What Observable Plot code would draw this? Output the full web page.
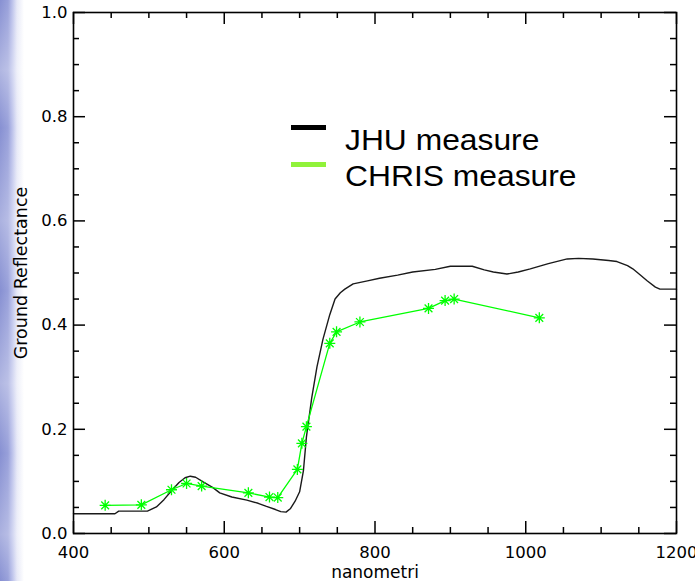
<!DOCTYPE html>
<html>
<head>
<meta charset="utf-8">
<script src="https://cdn.jsdelivr.net/npm/d3@7"></script>
<script src="https://cdn.jsdelivr.net/npm/@observablehq/plot@0.6"></script>
<style>
  html, body { margin: 0; padding: 0; width: 695px; height: 581px; overflow: hidden; background: #fff; }
  #wrap { position: relative; width: 695px; height: 581px; }
  #strip {
    position: absolute; left: 0; top: 0; width: 26px; height: 581px;
    background:
      linear-gradient(to bottom, rgba(255,255,255,0) 0%, rgba(255,255,255,0.35) 12%, rgba(255,255,255,0) 22%, rgba(255,255,255,0.3) 38%, rgba(255,255,255,0) 50%, rgba(255,255,255,0.35) 66%, rgba(255,255,255,0) 78%, rgba(255,255,255,0.3) 92%, rgba(255,255,255,0) 100%),
      linear-gradient(to right, #8790d2 0px, #98a0da 8px, #b9bfea 12px, #e6e8f7 17px, #ffffff 24px);
  }
  #chart { position: absolute; left: 0; top: 0; }
  .sw { position: absolute; left: 291px; width: 35px; height: 5px; }
  .lg { position: absolute; left: 345px; font-family: "Liberation Sans", Arial, sans-serif; font-size: 30px; line-height: 30px; color: #000; white-space: nowrap; transform: scaleX(1.06); transform-origin: 0 50%; }
</style>
</head>
<body>
<div id="wrap">
  <div id="strip"></div>
  <div id="chart"></div>
  <div class="sw" style="top:125px;background:#000;"></div>
  <div class="lg" id="lg1" style="top:125px;"></div>
  <div class="sw" style="top:162px;background:#90f23a;"></div>
  <div class="lg" id="lg2" style="top:161px;"></div>
</div>
<script>
// JHU laboratory spectrum (nm, reflectance)
const jhuWavelength = [400, 455, 460, 498, 510, 520, 530, 540, 548, 555, 562, 572, 585, 594, 610, 630, 645, 656, 668, 675, 682, 688, 694, 700, 705, 709, 716, 723, 731, 740, 747, 754, 760, 771, 790, 806, 830, 850, 880, 900, 929, 945, 957, 975, 990, 1006, 1030, 1055, 1070, 1089, 1110, 1121, 1135, 1142, 1152, 1161, 1172, 1178, 1200];
const jhuReflectance = [0.038, 0.038, 0.043, 0.043, 0.051, 0.065, 0.082, 0.098, 0.107, 0.110, 0.108, 0.099, 0.088, 0.078, 0.070, 0.064, 0.058, 0.052, 0.046, 0.042, 0.041, 0.048, 0.062, 0.080, 0.120, 0.185, 0.260, 0.320, 0.373, 0.420, 0.450, 0.462, 0.469, 0.479, 0.485, 0.490, 0.496, 0.502, 0.507, 0.513, 0.513, 0.506, 0.502, 0.498, 0.502, 0.508, 0.518, 0.527, 0.528, 0.527, 0.524, 0.522, 0.514, 0.508, 0.496, 0.485, 0.473, 0.469, 0.469];

// CHRIS bands (nm, reflectance)
const chrisWavelength = [442, 490, 530, 550, 570, 632, 660, 671, 697, 703, 709, 740, 749, 780, 871, 893, 905, 1018];
const chrisReflectance = [0.054, 0.055, 0.084, 0.096, 0.091, 0.078, 0.070, 0.069, 0.123, 0.173, 0.205, 0.365, 0.387, 0.406, 0.432, 0.447, 0.450, 0.414];

const seriesNames = ["JHU measure", "CHRIS measure"];
const xDomain = [400, 1200];
const yDomain = [0, 1];
const xTicks = [400, 600, 800, 1000, 1200];
const xMinorTicks = [450, 500, 550, 650, 700, 750, 850, 900, 950, 1050, 1100, 1150];
const yTicks = [0, 0.2, 0.4, 0.6, 0.8, 1.0];
const yMinorTicks = [0.05, 0.1, 0.15, 0.25, 0.3, 0.35, 0.45, 0.5, 0.55, 0.65, 0.7, 0.75, 0.85, 0.9, 0.95];
const xLabel = "nanometri";
const yLabel = "Ground Reflectance";

const jhu = jhuWavelength.map((w, i) => ({w, r: jhuReflectance[i]}));
const chris = chrisWavelength.map((w, i) => ({w, r: chrisReflectance[i]}));

// IDL-style 8-armed asterisk
const asterisk8 = {
  draw(ctx, size) {
    const r = Math.sqrt(size / Math.PI);
    const d = r * Math.SQRT1_2;
    ctx.moveTo(-r, 0); ctx.lineTo(r, 0);
    ctx.moveTo(0, -r); ctx.lineTo(0, r);
    ctx.moveTo(-d, -d); ctx.lineTo(d, d);
    ctx.moveTo(-d, d); ctx.lineTo(d, -d);
  }
};

const W = 695, H = 581, mL = 73, mR = 19, mT = 12, mB = 48;
const frameW = W - mL - mR, frameH = H - mT - mB;
// tick lengths (px) expressed as fractions of each axis span
const major = 12, minor = 6;
const xSpan = xDomain[1] - xDomain[0], ySpan = yDomain[1] - yDomain[0];
const yLen = px => px / frameH * ySpan;
const xLen = px => px / frameW * xSpan;
const tk = {stroke: "#000", strokeWidth: 1.5};

const inwardTicks = [
  Plot.ruleX(xTicks, {x: d => d, y1: yDomain[0], y2: yDomain[0] + yLen(major), ...tk}),
  Plot.ruleX(xMinorTicks, {x: d => d, y1: yDomain[0], y2: yDomain[0] + yLen(minor), ...tk}),
  Plot.ruleX(xTicks, {x: d => d, y1: yDomain[1] - yLen(major), y2: yDomain[1], ...tk}),
  Plot.ruleX(xMinorTicks, {x: d => d, y1: yDomain[1] - yLen(minor), y2: yDomain[1], ...tk}),
  Plot.ruleY(yTicks, {y: d => d, x1: xDomain[0], x2: xDomain[0] + xLen(major), ...tk}),
  Plot.ruleY(yMinorTicks, {y: d => d, x1: xDomain[0], x2: xDomain[0] + xLen(minor), ...tk}),
  Plot.ruleY(yTicks, {y: d => d, x1: xDomain[1] - xLen(major), x2: xDomain[1], ...tk}),
  Plot.ruleY(yMinorTicks, {y: d => d, x1: xDomain[1] - xLen(minor), x2: xDomain[1], ...tk})
];

const chart = Plot.plot({
  width: W,
  height: H,
  marginLeft: mL,
  marginRight: mR,
  marginTop: mT,
  marginBottom: mB,
  style: {fontFamily: '"DejaVu Sans", sans-serif', fontSize: "16.5px", color: "#000", background: "transparent", overflow: "visible"},
  x: {domain: xDomain},
  y: {domain: yDomain},
  marks: [
    Plot.axisX(xTicks, {anchor: "bottom", tickSize: 0, tickPadding: 13, label: null, tickFormat: d => String(d)}),
    Plot.axisY(yTicks, {anchor: "left", tickSize: 0, tickPadding: 6, label: null, tickFormat: d3.format(".1f")}),
    Plot.line(jhu, {x: "w", y: "r", stroke: "#1a1a1a", strokeWidth: 1.4}),
    Plot.line(chris, {x: "w", y: "r", stroke: "#00ff00", strokeWidth: 1.3}),
    Plot.dot(chris, {x: "w", y: "r", symbol: asterisk8, r: 5.5, stroke: "#00ff00", fill: "none", strokeWidth: 1.3}),
    ...inwardTicks,
    Plot.frame({stroke: "#000", strokeWidth: 1.6}),
    Plot.text([yLabel], {frameAnchor: "left", rotate: -90, dx: -52, textAnchor: "middle", lineAnchor: "middle", fontSize: 17.5}),
    Plot.text([xLabel], {frameAnchor: "bottom", dy: 39, textAnchor: "middle", lineAnchor: "middle", fontSize: 17})
  ]
});
document.getElementById("chart").appendChild(chart);
document.getElementById("lg1").textContent = seriesNames[0];
document.getElementById("lg2").textContent = seriesNames[1];
</script>
</body>
</html>
